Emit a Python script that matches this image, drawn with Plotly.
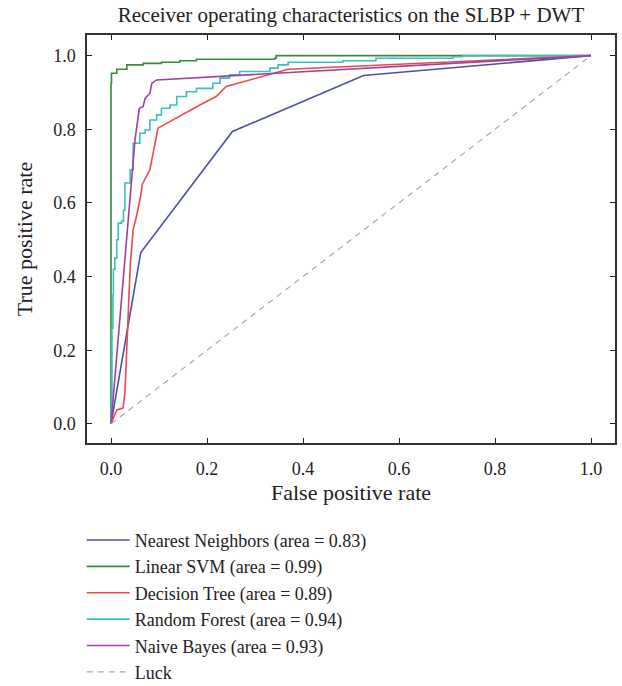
import plotly.graph_objects as go

# ROC points (false positive rate, true positive rate)
knn_fpr = [0.0, 0.062, 0.253, 0.526, 1.0]
knn_tpr = [0.0, 0.465, 0.794, 0.946, 1.0]

svm_fpr = [0.0, 0.0, 0.0, 0.001, 0.012, 0.033, 0.067, 0.105, 0.143, 0.178, 0.341, 0.344, 1.0]
svm_tpr = [0.0, 0.366, 0.925, 0.952, 0.963, 0.975, 0.979, 0.982, 0.986, 0.990, 0.993, 1.0, 1.0]

dt_fpr = [0.0, 0.012, 0.025, 0.029, 0.040, 0.046, 0.053, 0.062, 0.065, 0.081, 0.098, 0.178, 0.185, 0.219, 0.240, 0.369, 1.0]
dt_tpr = [0.0, 0.038, 0.043, 0.083, 0.427, 0.527, 0.563, 0.620, 0.650, 0.690, 0.803, 0.862, 0.866, 0.889, 0.916, 0.963, 1.0]

rf_fpr = [0.0, 0.0, 0.002, 0.004, 0.005, 0.008, 0.012, 0.015, 0.022, 0.026, 0.029, 0.040, 0.046, 0.060,
          0.071, 0.081, 0.095, 0.105, 0.123, 0.137, 0.157, 0.178, 0.212, 0.227, 0.247, 0.268, 0.331,
          0.348, 0.369, 0.483, 0.552, 0.712, 0.732, 1.0]
rf_tpr = [0.0, 0.04, 0.26, 0.35, 0.42, 0.45, 0.50, 0.545, 0.55, 0.58, 0.654, 0.69, 0.762, 0.789,
          0.798, 0.825, 0.839, 0.857, 0.866, 0.889, 0.902, 0.911, 0.925, 0.939, 0.948, 0.957, 0.966,
          0.975, 0.982, 0.986, 0.993, 0.997, 1.0, 1.0]

nb_fpr = [0.0, 0.050, 0.059, 0.067, 0.071, 0.081, 0.085, 0.095, 1.0]
nb_tpr = [0.0, 0.771, 0.857, 0.862, 0.884, 0.898, 0.925, 0.934, 1.0]

luck = [0.0, 1.0]

names = ['Nearest Neighbors (area = 0.83)', 'Linear SVM (area = 0.99)', 'Decision Tree (area = 0.89)',
         'Random Forest (area = 0.94)', 'Naive Bayes (area = 0.93)']
colors = ['#4a50a8', '#3a8a3e', '#f04848', '#3cbfbf', '#a040a0']
shapes = ['linear', 'hv', 'linear', 'hv', 'linear']
curves = [(knn_fpr, knn_tpr), (svm_fpr, svm_tpr), (dt_fpr, dt_tpr), (rf_fpr, rf_tpr), (nb_fpr, nb_tpr)]

font = 'Liberation Serif, Times New Roman, serif'

fig = go.Figure()
for (x, y), n, c, s in zip(curves, names, colors, shapes):
    fig.add_trace(go.Scatter(x=x, y=y, mode='lines', name=n, line=dict(color=c, width=1.6, shape=s)))
fig.add_trace(go.Scatter(x=luck, y=luck, mode='lines', name='Luck',
                         line=dict(color='#aaaaaa', width=1.2, dash='6px,5px')))

fig.update_layout(
    width=622, height=686,
    margin=dict(l=87, r=7, t=35, b=243, autoexpand=False),
    plot_bgcolor='white', paper_bgcolor='white',
    font=dict(family=font, size=18, color='#222'),
    title=dict(text='Receiver operating characteristics on the SLBP + DWT', x=0.5, xanchor='center',
               xref='paper', y=0.978, yanchor='middle', font=dict(size=21)),
    legend=dict(x=-0.01, y=-0.193, xanchor='left', yanchor='top', bgcolor='rgba(0,0,0,0)',
                font=dict(size=18), itemwidth=43),
    showlegend=True,
)
fig.update_xaxes(title_text='False positive rate', range=[-0.05, 1.05], tickvals=[0, 0.2, 0.4, 0.6, 0.8, 1.0],
                 tickformat='.1f', ticks='inside', ticklen=5, tickcolor='#222', showline=True, linecolor='#333',
                 linewidth=1.5, mirror='ticks', showgrid=False, zeroline=False, automargin=False,
                 ticklabelstandoff=9, title_standoff=6)
fig.update_yaxes(title_text='True positive rate', range=[-0.052, 1.056], tickvals=[0, 0.2, 0.4, 0.6, 0.8, 1.0],
                 tickformat='.1f', ticks='inside', ticklen=5, tickcolor='#222', showline=True, linecolor='#333',
                 linewidth=1.5, mirror='ticks', showgrid=False, zeroline=False, automargin=False,
                 ticklabelstandoff=6, title_standoff=14)

# drop the default 8px body margin so the figure sits at the page corner
fig.write_html('out.html', config={'displayModeBar': False},
               post_script="document.body.style.margin='0';")
